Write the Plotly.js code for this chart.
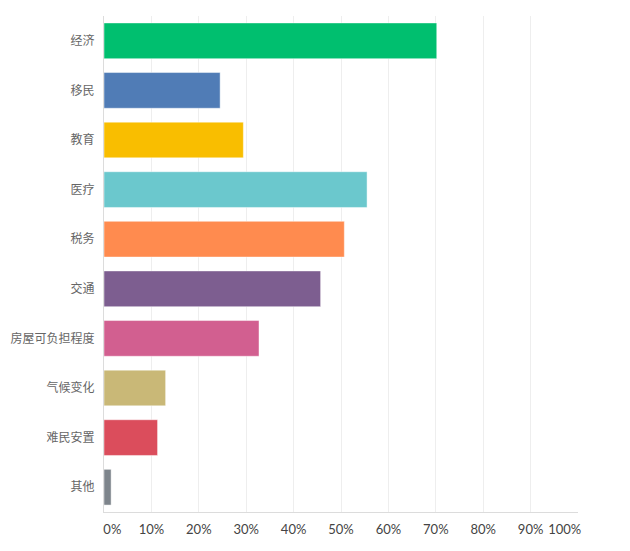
<!DOCTYPE html>
<html>
<head>
<meta charset="utf-8">
<script src="https://cdn.plot.ly/plotly-3.0.1.min.js"></script>
<style>
  html, body { margin: 0; padding: 0; background: #fff; }
  #chart { width: 630px; height: 551px; }
</style>
</head>
<body>
<div id="chart"></div>
<script>
// survey answers, share of respondents (%)
const categories = ['经济', '移民', '教育', '医疗', '税务', '交通', '房屋可负担程度', '气候变化', '难民安置', '其他'];
const shares = [70.2, 24.5, 29.4, 55.5, 50.7, 45.7, 32.7, 13.0, 11.3, 1.5];
const barColors = ['#00bf6f', '#507cb6', '#f9be00', '#6bc8cd', '#ff8b4f',
                   '#7d5e90', '#d25f90', '#c9b877', '#db4d5c', '#7d848b'];
const tickVals = [0, 10, 20, 30, 40, 50, 60, 70, 80, 90, 100];
const tickLabels = ['0%', '10%', '20%', '30%', '40%', '50%', '60%', '70%', '80%', '90%', '100%'];

// first and last labels sit inside the plot edge, like the original
const nb = '\u00a0';
const tickText = tickLabels.map((t, i) => {
    if (i === 0) return nb.repeat(5) + t;
    if (i === tickLabels.length - 1) return t + nb.repeat(8);
    return t;
});

const trace = {
    type: 'bar',
    orientation: 'h',
    y: categories,
    x: shares,
    marker: {
        color: barColors,
        line: { color: 'rgba(255,255,255,0.45)', width: 1 }
    },
    hoverinfo: 'y+x'
};

const layout = {
    width: 630,
    height: 551,
    paper_bgcolor: '#fff',
    plot_bgcolor: '#fff',
    margin: { l: 104, r: 52, t: 16, b: 39 },
    bargap: 0.28,
    showlegend: false,
    xaxis: {
        range: [0, 100],
        tickvals: tickVals,
        ticktext: tickText,
        showgrid: true,
        gridcolor: '#eeeeee',
        gridwidth: 1,
        zeroline: false,
        showline: true,
        linecolor: '#dcdcdc',
        linewidth: 1,
        ticks: '',
        ticklabelstandoff: 5,
        tickfont: { family: 'Lato, "Open Sans", sans-serif', size: 13, color: '#444' },
        fixedrange: true
    },
    yaxis: {
        autorange: 'reversed',
        showgrid: false,
        zeroline: false,
        showline: true,
        linecolor: '#dcdcdc',
        linewidth: 1,
        ticks: '',
        ticklabelstandoff: 6,
        tickfont: { family: '"Noto Sans CJK SC", sans-serif', size: 12, color: '#666' },
        fixedrange: true
    }
};

Plotly.newPlot('chart', [trace], layout, { displayModeBar: false, responsive: false });
</script>
</body>
</html>
